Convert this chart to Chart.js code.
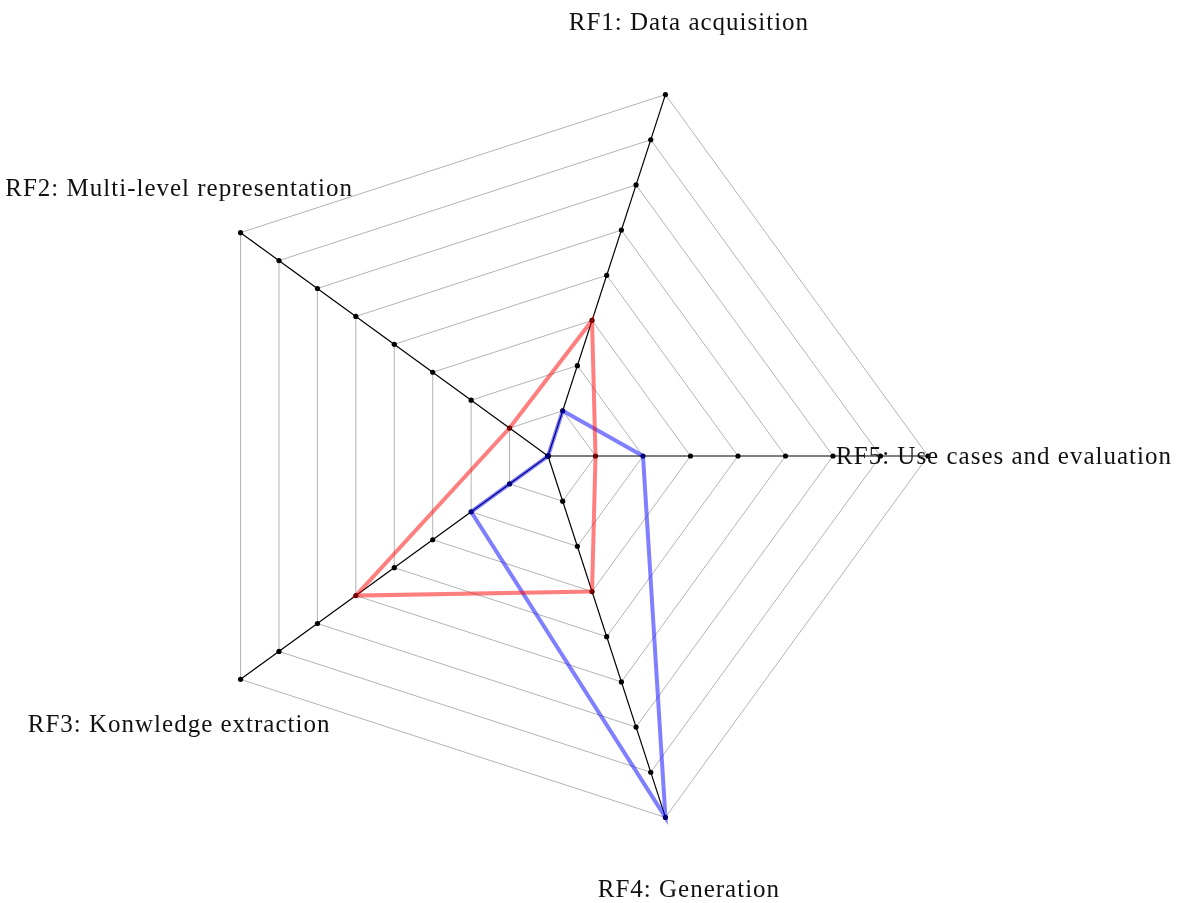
<!DOCTYPE html>
<html>
<head>
<meta charset="utf-8">
<script src="https://cdn.jsdelivr.net/npm/chart.js@4/dist/chart.umd.min.js"></script>
<style>
  body { margin: 0; background: #fff; }
</style>
</head>
<body>
<canvas id="myChart" width="1181" height="903"></canvas>
<script>
// axes listed clockwise from RF1 (Chart.js goes clockwise)
const labels = ['RF1: Data acquisition', 'RF5: Use cases and evaluation', 'RF4: Generation', 'RF3: Konwledge extraction', 'RF2: Multi-level representation'];
const redValues = [3, 1, 3, 5, 1];
const blueValues = [1, 2, 8, 2, 0];
const levelMax = 8;

// dots on every axis at every level, under the data lines
const axisDots = {
  id: 'axisDots',
  beforeDatasetsDraw(chart) {
    const scale = chart.scales.r;
    const c = chart.ctx;
    c.save();
    c.fillStyle = '#000';
    for (let i = 0; i < labels.length; i++) {
      for (let v = 0; v <= levelMax; v++) {
        const p = scale.getPointPositionForValue(i, v);
        c.beginPath();
        c.arc(p.x, p.y, 2.6, 0, Math.PI * 2);
        c.fill();
      }
    }
    c.restore();
  }
};

// axis names centred a bit outside the outer polygon
const axisNames = {
  id: 'axisNames',
  afterDraw(chart) {
    const scale = chart.scales.r;
    const c = chart.ctx;
    c.save();
    c.font = '25px "Liberation Serif"';
    c.letterSpacing = '1px';
    c.fillStyle = '#111';
    c.textAlign = 'center';
    c.textBaseline = 'middle';
    labels.forEach((txt, i) => {
      const p = scale.getPointPosition(i, scale.drawingArea * 1.2);
      c.fillText(txt, p.x, p.y + 1);
    });
    c.restore();
  }
};

const ctx = document.getElementById('myChart');

const myChart = new Chart(ctx, {
  type: 'radar',
  data: {
    labels: labels,
    datasets: [{
      data: redValues,
      borderColor: 'rgba(255,0,0,0.5)',
      backgroundColor: 'rgba(255,0,0,0.5)',
      borderWidth: 4,
      pointRadius: 0,
      fill: false
    },
    {
      data: blueValues,
      borderColor: 'rgba(0,0,255,0.5)',
      backgroundColor: 'rgba(0,0,255,0.5)',
      borderWidth: 4,
      pointRadius: 0,
      fill: false
    }]
  },
  options: {
    responsive: false,
    animation: false,
    layout: {
      padding: { top: 76, bottom: 67, left: 168, right: 253 }
    },
    plugins: {
      legend: { display: false },
      tooltip: { enabled: false }
    },
    scales: {
      r: {
        startAngle: 18,
        min: 0,
        max: levelMax,
        ticks: { display: false, stepSize: 1 },
        pointLabels: { display: false },
        grid: { color: '#b3b3b3', lineWidth: 1 },
        angleLines: { color: '#000', lineWidth: 1.2 }
      }
    }
  },
  plugins: [axisDots, axisNames]
});
</script>
</body>
</html>
